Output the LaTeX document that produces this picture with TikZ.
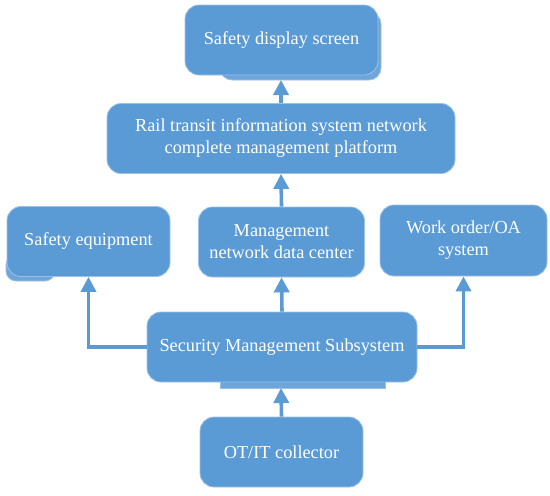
\documentclass[tikz,border=0pt]{standalone}
\usepackage{fontspec}
\setmainfont{Liberation Serif}
\usetikzlibrary{arrows.meta}
\definecolor{boxblue}{HTML}{5B9BD5}
\definecolor{boxedge}{HTML}{9DC0E6}
\definecolor{shadowblue}{HTML}{6FA6DA}
\begin{document}
\begin{tikzpicture}[x=1pt,y=-1pt,
  box/.style={draw=boxedge, line width=0.8pt, fill=boxblue, rounded corners=14pt,
    text=white, align=center, inner sep=0pt,
    font=\fontsize{18.3}{22}\selectfont},
  shade/.style={draw=boxedge, line width=0.8pt, fill=shadowblue},
  link/.style={draw=boxblue, line width=3.6pt,
    -{Triangle[width=15pt,length=15pt]}}]
\useasboundingbox (0,0) rectangle (550,496);
% shadows
\fill[shade, rounded corners=12pt] (220,12) rectangle (381,80);
\fill[shade, rounded corners=10pt] (6,255) rectangle (55,281);
\fill[shade] (220,350) rectangle (385,388);
\coordinate (dispbase) at (281,80);
\coordinate (secbase) at (281,388);
% boxes
\node[box, minimum width=193pt, minimum height=70pt] (disp) at (281.5,40) {Safety display screen};
\node[box, minimum width=348pt, minimum height=70pt] (rail) at (281,138.5) {Rail transit information system network\\complete management platform};
\node[box, minimum width=163pt, minimum height=70pt] (equip) at (88.5,241.5) {Safety equipment};
\node[box, minimum width=166pt, minimum height=70pt] (mgmt) at (281.5,242) {Management\\network data center};
\node[box, minimum width=167pt, minimum height=71pt] (wo) at (463.5,240.5) {Work order/OA\\system};
\node[box, minimum width=270pt, minimum height=70pt] (sec) at (282,347) {Security Management Subsystem};
\node[box, minimum width=163pt, minimum height=70pt] (ot) at (281.5,452) {OT/IT collector};
% connectors
\draw[link] (ot.north) -- (secbase);
\draw[link] (sec.north) -- (mgmt.south);
\draw[link] (mgmt.north) -- (rail.south);
\draw[link] (rail.north) -- (dispbase);
\draw[link] (sec.west) -| (equip.south);
\draw[link] (sec.east) -| (wo.south);
\end{tikzpicture}
\end{document}
